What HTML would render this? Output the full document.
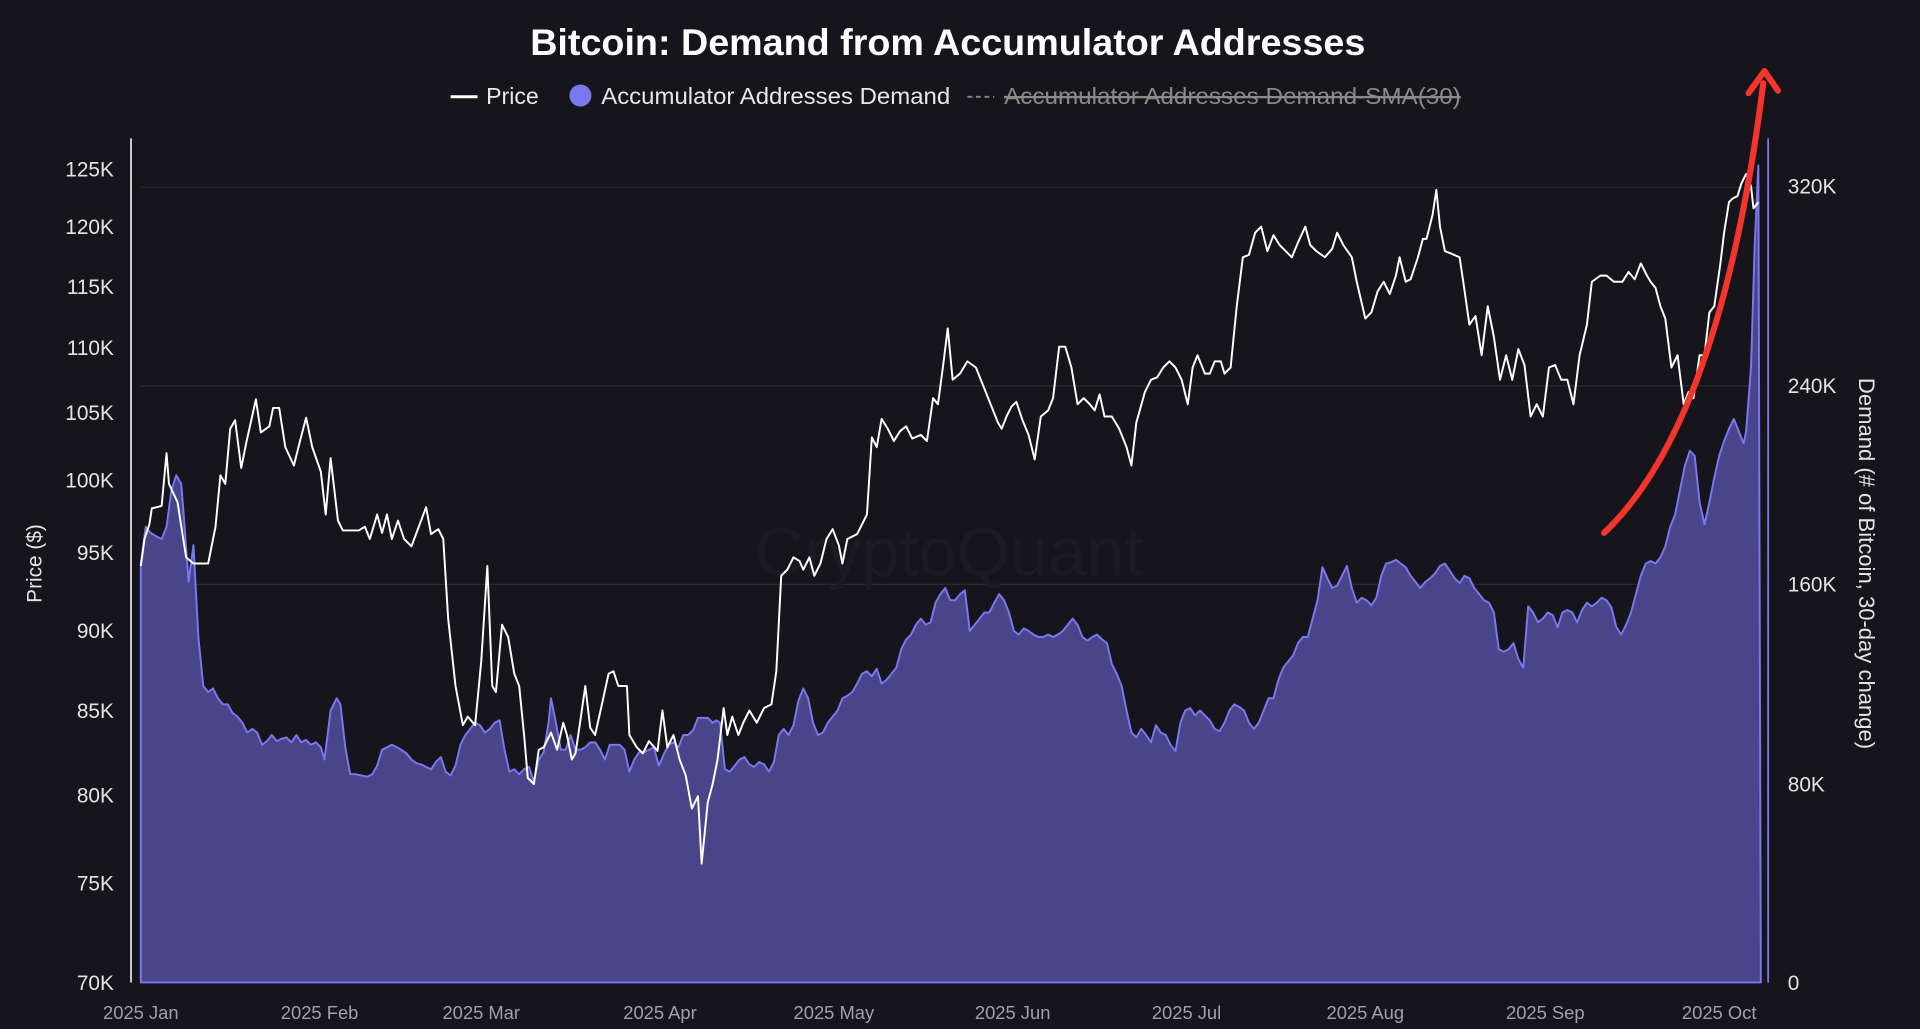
<!DOCTYPE html>
<html><head><meta charset="utf-8"><style>
html,body{margin:0;padding:0;background:#16151b;}
svg{display:block;}
text{font-family:"Liberation Sans",sans-serif;}
</style></head><body>
<svg width="1920" height="1029" viewBox="0 0 1568 840" preserveAspectRatio="none" xmlns="http://www.w3.org/2000/svg">
<rect width="1568" height="840" fill="#16151b"/>
<text x="433" y="45" textLength="682" lengthAdjust="spacingAndGlyphs" fill="#ffffff" font-size="30" font-weight="bold">Bitcoin: Demand from Accumulator Addresses</text>
<line x1="368" y1="79" x2="390" y2="79" stroke="#fff" stroke-width="2.5"/>
<text x="397" y="85" textLength="43" lengthAdjust="spacingAndGlyphs" fill="#e8e8e8" font-size="19">Price</text>
<circle cx="474" cy="78" r="9" fill="#7b77ee"/>
<text x="491" y="85" textLength="285" lengthAdjust="spacingAndGlyphs" fill="#e8e8e8" font-size="19">Accumulator Addresses Demand</text>
<line x1="790" y1="79" x2="812" y2="79" stroke="#888" stroke-width="1.5" stroke-dasharray="4,3"/>
<text x="820" y="85" textLength="373" lengthAdjust="spacingAndGlyphs" fill="#8a8a8a" font-size="19" text-decoration="line-through">Accumulator Addresses Demand-SMA(30)</text>
<line x1="115" y1="153" x2="1438" y2="153" stroke="#2a2930" stroke-width="1"/>
<line x1="115" y1="315" x2="1438" y2="315" stroke="#2a2930" stroke-width="1"/>
<line x1="115" y1="477" x2="1438" y2="477" stroke="#2a2930" stroke-width="1"/>
<line x1="115" y1="640" x2="1438" y2="640" stroke="#2a2930" stroke-width="1"/>
<text x="775" y="470" text-anchor="middle" fill="#1c1b22" font-size="56">CryptoQuant</text>
<polygon fill="#48458a" stroke="#7b77ee" stroke-width="1.6" stroke-linejoin="round" points="115,802 115,460 119,430 123,435 128,438 132,440 136,430 140,400 144,388 148,395 150,420 154,475 158,445 162,520 166,560 170,565 174,562 178,570 182,575 186,575 190,582 194,585 198,590 202,598 206,595 210,598 214,608 218,605 222,600 226,605 230,603 234,602 238,606 242,600 246,606 250,604 254,608 258,606 262,610 265,620 270,580 275,570 278,575 282,610 286,632 290,632 295,633 300,634 304,632 308,625 312,612 316,610 320,608 326,611 332,615 336,620 340,623 344,624 348,626 352,628 356,622 360,618 364,630 368,633 372,625 376,608 380,600 384,595 388,590 392,592 396,598 400,595 404,590 408,588 412,612 416,630 420,628 424,632 428,628 432,626 436,638 440,620 444,614 448,590 450,570 454,590 458,612 462,612 466,600 470,612 474,612 478,610 482,606 486,606 490,612 494,620 498,608 502,608 506,608 510,612 514,630 518,620 522,614 526,614 530,612 534,610 538,625 542,616 546,608 550,606 554,610 558,600 562,600 566,596 570,586 574,586 578,586 582,590 585,588 588,590 592,628 596,630 600,625 604,620 608,618 612,624 616,626 620,622 624,624 628,630 632,622 636,600 640,595 644,600 648,592 652,572 656,562 660,570 664,590 668,600 672,598 676,590 680,585 684,580 688,570 692,568 696,565 700,558 704,550 708,548 712,552 716,546 720,558 724,555 728,550 732,545 736,530 740,522 744,518 748,510 752,505 756,510 760,508 764,492 768,485 772,480 776,490 780,490 784,485 788,482 792,515 796,510 800,505 804,500 808,500 812,492 816,485 820,490 824,500 828,515 832,518 836,513 840,515 844,518 848,520 852,520 856,518 860,520 864,518 868,515 872,510 876,505 880,510 884,520 888,523 892,520 896,518 900,522 904,525 908,542 912,550 916,560 920,580 924,598 928,602 932,595 936,600 940,606 944,592 948,598 952,600 956,608 960,613 964,590 968,580 972,578 976,584 980,580 984,584 988,588 992,595 996,597 1000,590 1004,580 1008,575 1012,577 1016,580 1020,590 1024,595 1028,590 1032,580 1036,570 1040,570 1044,555 1048,545 1052,540 1056,535 1060,525 1064,520 1068,520 1072,505 1076,490 1080,463 1084,472 1088,480 1092,478 1096,470 1100,462 1104,480 1108,492 1112,488 1116,490 1120,494 1124,488 1128,470 1132,460 1136,459 1140,457 1144,460 1148,463 1152,470 1156,475 1160,480 1164,475 1168,472 1172,468 1176,462 1180,460 1184,466 1188,472 1192,476 1196,470 1200,472 1204,480 1208,485 1212,490 1216,492 1220,500 1224,530 1228,532 1232,530 1236,525 1240,538 1244,545 1248,495 1252,500 1256,508 1260,505 1264,500 1268,502 1272,512 1276,500 1280,498 1284,500 1288,508 1292,498 1296,492 1300,495 1304,492 1308,488 1312,490 1316,496 1320,512 1324,518 1328,510 1332,500 1336,485 1340,470 1344,460 1348,458 1352,460 1356,455 1360,446 1364,430 1368,420 1372,400 1376,380 1380,368 1384,372 1388,410 1392,428 1396,410 1400,390 1404,372 1408,360 1412,350 1416,342 1420,352 1424,362 1426,352 1430,300 1433,200 1436,135 1438,802"/>
<polyline fill="none" stroke="#ffffff" stroke-width="1.6" stroke-linejoin="round" points="115,462 118,440 122,428 124,415 132,413 136,370 138,395 145,410 152,455 158,460 170,460 176,430 180,388 184,395 188,350 192,343 197,382 201,362 209,326 213,353 220,348 223,333 228,333 233,365 240,380 245,360 250,341 255,365 262,385 266,420 270,374 276,425 280,433 293,433 298,430 302,440 308,420 312,435 316,420 320,440 325,425 330,440 336,446 342,430 348,414 352,436 358,432 362,440 366,505 372,560 378,592 382,585 388,592 393,540 398,462 402,560 405,565 410,510 415,520 420,550 424,560 428,600 431,635 436,640 440,612 444,610 450,598 455,612 460,590 463,600 467,620 470,615 474,588 478,560 482,594 486,600 492,573 497,550 501,548 505,560 512,560 514,600 520,610 525,615 530,605 537,613 541,580 545,610 550,600 555,620 560,633 565,660 570,650 573,705 578,655 582,640 586,620 591,578 594,600 598,585 603,600 607,590 612,580 618,590 624,578 630,575 634,548 638,470 643,465 648,455 653,458 656,465 661,455 665,470 670,460 675,440 680,432 685,445 688,460 692,440 700,436 708,420 712,357 716,365 720,342 725,350 730,360 735,352 740,348 745,358 752,355 757,360 762,325 766,330 770,300 774,268 778,310 784,305 790,295 797,300 803,315 809,330 815,345 818,350 822,340 826,332 830,328 835,343 840,355 845,375 850,340 856,335 860,325 865,283 870,283 875,300 880,330 885,325 890,330 894,335 898,322 902,340 908,340 914,350 920,365 924,380 928,345 935,320 940,310 945,308 950,300 955,295 960,300 965,310 970,330 974,300 978,290 984,305 988,305 992,295 997,295 1000,305 1005,300 1010,250 1015,210 1020,208 1025,190 1030,185 1035,205 1040,192 1045,200 1048,203 1055,210 1060,198 1066,185 1070,200 1075,205 1082,210 1088,203 1092,190 1097,200 1104,210 1108,230 1115,260 1120,255 1125,238 1130,230 1135,240 1140,225 1143,210 1148,230 1152,228 1158,210 1162,195 1165,195 1170,175 1173,155 1176,185 1180,205 1185,207 1192,210 1195,230 1200,265 1205,258 1210,290 1215,250 1220,275 1225,310 1230,290 1235,310 1240,285 1245,298 1250,340 1255,330 1260,340 1265,300 1270,298 1275,310 1280,310 1285,330 1290,290 1296,265 1300,230 1307,225 1312,225 1318,230 1325,230 1330,222 1335,228 1340,215 1345,225 1348,230 1352,235 1356,250 1360,260 1365,300 1370,290 1375,330 1379,320 1383,325 1388,290 1392,290 1396,255 1400,250 1405,215 1408,190 1412,165 1415,162 1419,160 1422,150 1426,142 1430,152 1432,170 1436,165"/>
<line x1="107" y1="113" x2="107" y2="802" stroke="#d8d8d8" stroke-width="1.5"/>
<line x1="1444" y1="113" x2="1444" y2="802" stroke="#7b77ee" stroke-width="1.5"/>
<path d="M1310 435 Q1405 345 1440 68" fill="none" stroke="#f5352c" stroke-width="5" stroke-linecap="round"/>
<path d="M1428 76 L1441 58 L1452 74" fill="none" stroke="#f5352c" stroke-width="5" stroke-linecap="round" stroke-linejoin="round"/>
<g fill="#e4e4e4" font-size="17" text-anchor="end">
<text x="93" y="144">125K</text><text x="93" y="191">120K</text><text x="93" y="240">115K</text><text x="93" y="290">110K</text><text x="93" y="343">105K</text><text x="93" y="398">100K</text><text x="93" y="457">95K</text><text x="93" y="521">90K</text><text x="93" y="586">85K</text><text x="93" y="655">80K</text><text x="93" y="727">75K</text><text x="93" y="808">70K</text>
</g>
<g fill="#e4e4e4" font-size="17">
<text x="1460" y="158">320K</text><text x="1460" y="321">240K</text><text x="1460" y="483">160K</text><text x="1460" y="646">80K</text><text x="1460" y="808">0</text>
</g>
<text transform="translate(34,460) rotate(-90)" text-anchor="middle" fill="#e4e4e4" font-size="17">Price ($)</text>
<text transform="translate(1518,460) rotate(90)" text-anchor="middle" fill="#e4e4e4" font-size="18">Demand (# of Bitcoin, 30-day change)</text>
<g fill="#a0a0a8" font-size="15" text-anchor="middle">
<text x="115" y="832">2025 Jan</text><text x="261" y="832">2025 Feb</text><text x="393" y="832">2025 Mar</text><text x="539" y="832">2025 Apr</text><text x="681" y="832">2025 May</text><text x="827" y="832">2025 Jun</text><text x="969" y="832">2025 Jul</text><text x="1115" y="832">2025 Aug</text><text x="1262" y="832">2025 Sep</text><text x="1404" y="832">2025 Oct</text>
</g>
</svg>
</body></html>
